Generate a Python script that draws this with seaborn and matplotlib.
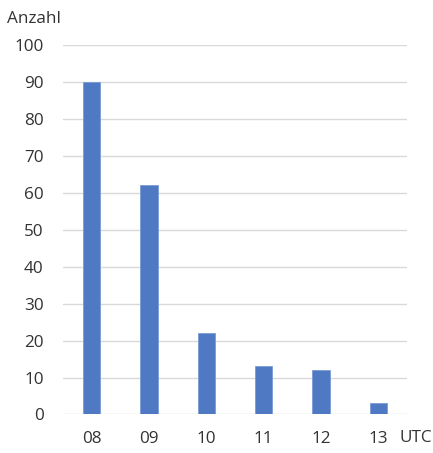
import matplotlib
matplotlib.use("Agg")
import matplotlib.pyplot as plt
import seaborn as sns
import pandas as pd

hours = ["08", "09", "10", "11", "12", "13"]
counts = [90, 62, 22, 13, 12, 3]
y_ticks = [0, 10, 20, 30, 40, 50, 60, 70, 80, 90, 100]

sns.set_theme(style="white")
plt.rcParams["font.family"] = ["Open Sans", "DejaVu Sans"]

df = pd.DataFrame({"Stunde": hours, "Anzahl": counts})

fig = plt.figure(figsize=(4.33, 4.53), dpi=100)
ax = fig.add_axes([0.1455, 0.085, 0.7945, 0.8157])

sns.barplot(data=df, x="Stunde", y="Anzahl", ax=ax, color="#4F7AC3",
            saturation=1, width=0.30, edgecolor="#7A9BD6", linewidth=0.6,
            zorder=3)

ax.set_ylim(0, 100)
ax.set_yticks(y_ticks)
ax.set_xlim(-0.5, len(hours) - 0.5)
ax.yaxis.grid(True, color="#D9D9D9", linewidth=1.0, zorder=0)
ax.xaxis.grid(False)
for s in ax.spines.values():
    s.set_visible(False)

text_color = "#333333"
ax.tick_params(axis="both", length=0, labelsize=12.3, colors=text_color)
ax.tick_params(axis="y", pad=14)
ax.tick_params(axis="x", pad=12)
ax.set_xlabel("")
ax.set_ylabel("")

fig.text(0.017, 0.959, "Anzahl", fontsize=12.3, color=text_color,
         ha="left", va="center")
fig.text(0.922, 0.033, "UTC", fontsize=12.3, color=text_color,
         ha="left", va="center")

fig.savefig("out.png", dpi=100)
